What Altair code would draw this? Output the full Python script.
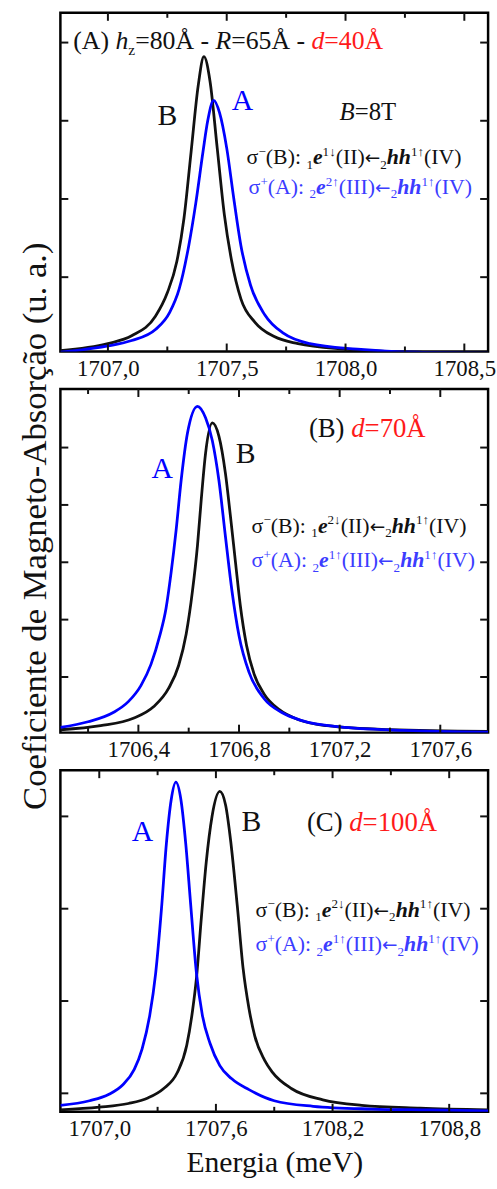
import altair as alt
import pandas as pd

FONT = "Liberation Serif"
BLACK = "#111111"
BLUE = "#0000ff"
RED = "#ff1a1a"
TBLUE = "#3c3cff"

# ---------------- data ----------------
# Panel (A): d = 40 A  -- B (black) and A (blue)
A_B_E = [1706.80, 1707.00, 1707.10, 1707.20, 1707.25, 1707.29, 1707.32, 1707.35, 1707.38, 1707.404,
         1707.43, 1707.46, 1707.49, 1707.52, 1707.56, 1707.62, 1707.70, 1707.80, 1708.00, 1708.30, 1708.60]
A_B_I = [0.06, 0.15, 0.25, 0.50, 0.80, 1.20, 1.75, 2.60, 3.45, 3.82,
         3.50, 2.65, 1.80, 1.22, 0.72, 0.42, 0.24, 0.15, 0.08, 0.04, 0.03]
A_A_E = [1706.80, 1707.00, 1707.10, 1707.20, 1707.26, 1707.30, 1707.34, 1707.37, 1707.40, 1707.42, 1707.445,
         1707.47, 1707.50, 1707.53, 1707.56, 1707.60, 1707.66, 1707.74, 1707.85, 1708.05, 1708.30, 1708.60]
A_A_I = [0.04, 0.12, 0.19, 0.33, 0.55, 0.85, 1.40, 1.95, 2.60, 3.00, 3.26,
         3.10, 2.65, 2.00, 1.40, 0.90, 0.52, 0.28, 0.15, 0.08, 0.04, 0.03]

# Panel (B): d = 70 A
B_B_E = [1706.09, 1706.25, 1706.38, 1706.46, 1706.52, 1706.56, 1706.59, 1706.615, 1706.635, 1706.65,
         1706.667, 1706.694, 1706.72, 1706.746, 1706.766, 1706.786, 1706.805, 1706.83, 1706.86, 1706.90,
         1706.96, 1707.04, 1707.15, 1707.40, 1707.79]
B_B_I = [0.08, 0.15, 0.28, 0.48, 0.80, 1.20, 1.75, 2.50, 3.30, 4.10,
         4.90, 5.43, 5.20, 4.55, 3.80, 3.00, 2.25, 1.55, 1.05, 0.70,
         0.43, 0.25, 0.15, 0.08, 0.05]
B_A_E = [1706.09, 1706.20, 1706.30, 1706.36, 1706.41, 1706.45, 1706.485, 1706.51, 1706.53, 1706.55,
         1706.57, 1706.595, 1706.635, 1706.667, 1706.694, 1706.72, 1706.746, 1706.772, 1706.80, 1706.84,
         1706.90, 1706.97, 1707.05, 1707.20, 1707.45, 1707.79]
B_A_I = [0.12, 0.22, 0.38, 0.57, 0.85, 1.22, 1.72, 2.20, 2.82, 3.56,
         4.43, 5.25, 5.72, 5.52, 5.12, 4.43, 3.45, 2.50, 1.72, 1.08,
         0.62, 0.38, 0.24, 0.13, 0.07, 0.04]

# Panel (C): d = 100 A
C_B_E = [1706.80, 1707.00, 1707.15, 1707.25, 1707.33, 1707.40, 1707.45, 1707.48, 1707.50, 1707.525,
         1707.55, 1707.58, 1707.62, 1707.65, 1707.675, 1707.71, 1707.74, 1707.77, 1707.80, 1707.85,
         1707.89, 1707.99, 1708.15, 1708.35, 1708.65, 1709.00]
C_B_I = [0.02, 0.05, 0.09, 0.15, 0.25, 0.42, 0.72, 1.10, 1.45, 2.10,
         2.70, 3.20, 3.47, 3.32, 2.95, 2.23, 1.55, 1.12, 0.82, 0.56,
         0.43, 0.25, 0.13, 0.07, 0.04, 0.02]
C_A_E = [1706.80, 1706.95, 1707.05, 1707.12, 1707.18, 1707.22, 1707.26, 1707.29, 1707.32, 1707.345,
         1707.37, 1707.394, 1707.42, 1707.445, 1707.47, 1707.50, 1707.53, 1707.57, 1707.62, 1707.68,
         1707.77, 1707.90, 1708.10, 1708.40, 1708.70, 1709.00]
C_A_I = [0.07, 0.12, 0.19, 0.29, 0.46, 0.68, 1.05, 1.50, 2.20, 2.90,
         3.38, 3.57, 3.38, 2.90, 2.25, 1.50, 1.05, 0.74, 0.50, 0.36,
         0.24, 0.12, 0.06, 0.03, 0.02, 0.01]

# axes
A_XDOM, A_YDOM = [1706.8, 1708.6], [0.05, 4.38]
B_XDOM, B_YDOM = [1706.09, 1707.79], [0.03, 6.02]
C_XDOM, C_YDOM = [1706.8, 1709.0], [0.0, 3.70]
A_XMAJ, A_XMIN, A_YT = [1707.0, 1707.5, 1708.0, 1708.5], [1707.25, 1707.75, 1708.25], [1, 2, 3, 4]
B_XMAJ, B_XMIN, B_YT = [1706.4, 1706.8, 1707.2, 1707.6], [1706.2, 1706.6, 1707.0, 1707.4], [1, 2, 3, 4, 5]
C_XMAJ, C_XMIN, C_YT = [1707.0, 1707.6, 1708.2, 1708.8], [1707.3, 1707.9, 1708.5], [0.2, 1.2, 2.2, 3.2]

SERIES = ["B", "A"]
W = 432

# ---------------- text helpers ----------------
W_N = {' ': 0.25, '(': 0.333, ')': 0.333, ':': 0.278, 'A': 0.722, 'B': 0.667, 'C': 0.667,
       'I': 0.333, 'V': 0.722, 'σ': 0.55, '=': 0.564, '-': 0.333, 'Å': 0.722,
       'T': 0.611, '−': 0.564, '+': 0.564, '↑': 0.5, '↓': 0.5, 'z': 0.444}
W_I = {'h': 0.5, 'R': 0.611, 'd': 0.5, 'B': 0.611}
W_BI = {'e': 0.444, 'h': 0.556}
ONE = pd.DataFrame({"k": [0]})


def seg_width(s, kind, f):
    if kind == "arrow":
        return 0.838 * 0.85 * f
    if kind in ("sup", "sub"):
        return sum(W_N.get(c, 0.5) for c in s) * 0.6 * f
    if kind == "i":
        return sum(W_I.get(c, W_N.get(c, 0.5)) for c in s) * f
    if kind == "bi":
        return sum(W_BI.get(c, W_N.get(c, 0.5)) for c in s) * f
    return sum(W_N.get(c, 0.5) for c in s) * f


def rich(segs, x0, y0, f):
    out = []
    x = x0
    for s, kind, color in segs:
        size, dy, style, weight, font = f, 0.0, "normal", "normal", FONT
        if kind == "sup":
            size, dy = 0.6 * f, -0.38 * f
        elif kind == "sub":
            size, dy = 0.6 * f, 0.2 * f
        elif kind == "i":
            style = "italic"
        elif kind == "bi":
            style, weight = "italic", "bold"
        elif kind == "arrow":
            size, font = 0.85 * f, "DejaVu Sans"
        out.append(
            alt.Chart(ONE).mark_text(text=s, font=font, fontSize=size, fontStyle=style,
                                     fontWeight=weight, color=color, align="left",
                                     baseline="alphabetic")
            .encode(x=alt.value(x), y=alt.value(y0 + dy))
        )
        x += seg_width(s, kind, f)
    return out


def trans(sign, letter, n1, e_sup, e_arrow, roman, color):
    return [("σ", "n", color), (sign, "sup", color), ("(" + letter + "): ", "n", color),
            (n1, "sub", color), ("e", "bi", color), (e_sup + e_arrow, "sup", color),
            ("(" + roman + ")", "n", color), ("←", "arrow", color), ("2", "sub", color),
            ("hh", "bi", color), ("1↑", "sup", color), ("(IV)", "n", color)]


def panel(be, bi, ae, ai, xdom, ydom, xmaj, xmin, yt, H, texts, xtitle=False, ytitle=False):
    xs = alt.Scale(domain=xdom, nice=False, zero=False)
    ys = alt.Scale(domain=ydom, nice=False, zero=False)
    xkw = dict(values=xmaj, labelExpr="replace(format(datum.value, '.1f'), '.', ',')",
               ticks=False, tickSize=0, domain=False, grid=False, labelFont=FONT,
               labelFontSize=23, labelColor=BLACK, labelPadding=6, title=None)
    if xtitle:
        xkw.update(title="Energia (meV)", titleFont=FONT, titleFontSize=30,
                   titleFontWeight="normal", titleColor=BLACK, titleY=60,
                   titleBaseline="alphabetic")
    xaxis = alt.Axis(**xkw)
    if ytitle:
        yaxis = alt.Axis(labels=False, ticks=False, domain=False, grid=False,
                         title="Coeficiente de Magneto-Absorção (u. a.)", titleFont=FONT,
                         titleFontSize=35, titleFontWeight="normal", titleColor=BLACK,
                         titleAngle=270, titleX=-15, titleY=138, titleAlign="center",
                         titleBaseline="alphabetic")
    else:
        yaxis = None
    df = pd.concat([
        pd.DataFrame({"E": be, "I": bi, "s": "B", "o": range(len(be))}),
        pd.DataFrame({"E": ae, "I": ai, "s": "A", "o": range(len(ae))}),
    ])
    lines = alt.Chart(df).mark_line(clip=True, strokeWidth=2.8, interpolate="monotone").encode(
        x=alt.X("E:Q", scale=xs, axis=xaxis),
        y=alt.Y("I:Q", scale=ys, axis=yaxis),
        color=alt.Color("s:N", scale=alt.Scale(domain=SERIES, range=[BLACK, BLUE]), legend=None),
        detail="s:N",
        order="o:Q",
    )
    layers = [lines]
    for vals, ln in ((xmaj, 8), (xmin, 5)):
        d = pd.DataFrame({"E": vals})
        layers.append(alt.Chart(d).mark_rule(color=BLACK, strokeWidth=2).encode(
            x=alt.X("E:Q", scale=xs, axis=xaxis), y=alt.value(H), y2=alt.value(H - ln)))
        layers.append(alt.Chart(d).mark_rule(color=BLACK, strokeWidth=2).encode(
            x=alt.X("E:Q", scale=xs, axis=xaxis), y=alt.value(0), y2=alt.value(ln)))
    dy = pd.DataFrame({"I": yt})
    layers.append(alt.Chart(dy).mark_rule(color=BLACK, strokeWidth=2).encode(
        y=alt.Y("I:Q", scale=ys, axis=yaxis), x=alt.value(0), x2=alt.value(8)))
    layers.append(alt.Chart(dy).mark_rule(color=BLACK, strokeWidth=2).encode(
        y=alt.Y("I:Q", scale=ys, axis=yaxis), x=alt.value(W), x2=alt.value(W - 8)))
    layers += texts
    return alt.layer(*layers).properties(width=W, height=H)


# ---------------- annotations ----------------
tA = []
tA += rich([("(A) ", "n", BLACK), ("h", "i", BLACK), ("z", "sub", BLACK), ("=80Å - ", "n", BLACK),
            ("R", "i", BLACK), ("=65Å - ", "n", BLACK), ("d", "i", RED), ("=40Å", "n", RED)], 13, 37, 26)
tA += rich([("B", "i", BLACK), ("=8T", "n", BLACK)], 282, 108, 25)
tA += rich([("B", "n", BLACK)], 98, 113, 30)
tA += rich([("A", "n", BLUE)], 173, 98, 30)
tA += rich(trans("−", "B", "1", "1", "↓", "II", BLACK), 188, 153, 22)
tA += rich(trans("+", "A", "2", "2", "↑", "III", TBLUE), 190, 183, 22)

tB = []
tB += rich([("(B) ", "n", BLACK), ("d", "i", RED), ("=70Å", "n", RED)], 251, 48, 27)
tB += rich([("B", "n", BLACK)], 177, 75, 30)
tB += rich([("A", "n", BLUE)], 92, 90, 30)
tB += rich(trans("−", "B", "1", "2", "↓", "II", BLACK), 193, 145, 22)
tB += rich(trans("+", "A", "2", "1", "↑", "III", TBLUE), 193, 180, 22)

tC = []
tC += rich([("(C) ", "n", BLACK), ("d", "i", RED), ("=100Å", "n", RED)], 249, 61, 27)
tC += rich([("B", "n", BLACK)], 183, 61, 30)
tC += rich([("A", "n", BLUE)], 72, 71, 30)
tC += rich(trans("−", "B", "1", "2", "↓", "II", BLACK), 197, 148, 22)
tC += rich(trans("+", "A", "2", "1", "↑", "III", TBLUE), 197, 183, 22)

pA = panel(A_B_E, A_B_I, A_A_E, A_A_I, A_XDOM, A_YDOM, A_XMAJ, A_XMIN, A_YT, 342, tA)
pB = panel(B_B_E, B_B_I, B_A_E, B_A_I, B_XDOM, B_YDOM, B_XMAJ, B_XMIN, B_YT, 347, tB, ytitle=True)
pC = panel(C_B_E, C_B_I, C_A_E, C_A_I, C_XDOM, C_YDOM, C_XMAJ, C_XMIN, C_YT, 345, tC, xtitle=True)

chart = alt.vconcat(pA, pB, pC, spacing=38, bounds="flush").properties(
    padding={"left": 16, "top": 4, "right": 0, "bottom": 5},
    background="white",
).configure_view(stroke="black", strokeWidth=2.5)

chart.save("out.html", embed_options={"renderer": "svg", "actions": False})
